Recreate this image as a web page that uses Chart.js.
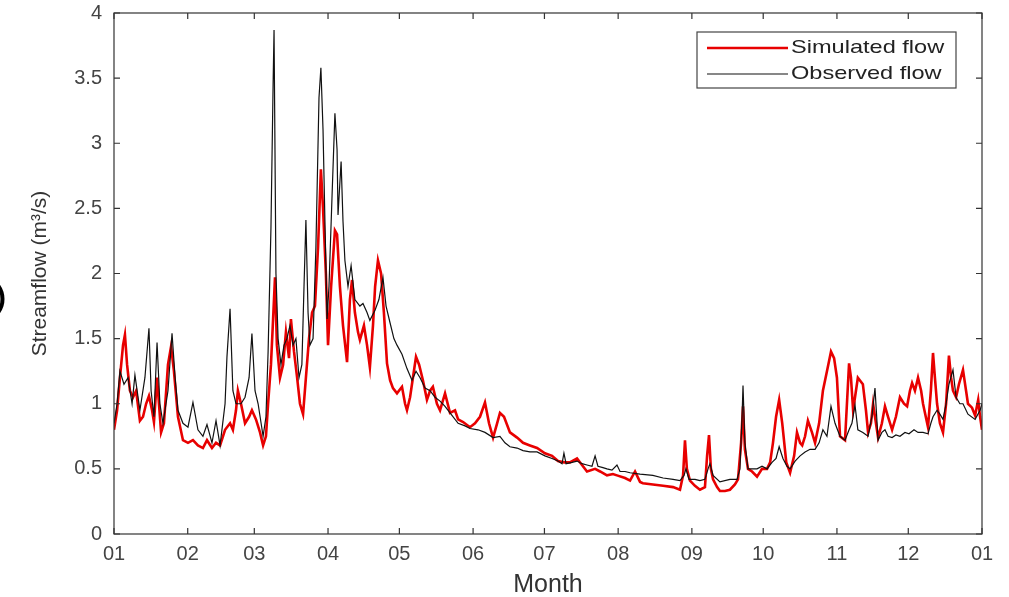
<!DOCTYPE html>
<html>
<head>
<meta charset="utf-8">
<script src="https://cdn.jsdelivr.net/npm/chart.js@4"></script>
<style>
  body { margin: 0; background: #fff; }
  canvas { display: block; }
</style>
</head>
<body>
<canvas id="flowChart" width="1009" height="597"></canvas>
<script>
// month ticks (day of year where each month starts)
var monthStarts = [0, 31, 59, 90, 120, 151, 181, 212, 243, 273, 304, 334, 365];
var monthLabels = ['01', '02', '03', '04', '05', '06', '07', '08', '09', '10', '11', '12', '01'];

var seriesNames = ['Simulated flow', 'Observed flow'];

// observed flow (m3/s)
var obsDays = [0, 1.3, 2.5, 4.2, 5.9, 7.6, 8.8, 10.9, 13.0, 14.7, 15.6, 16.8, 18.1, 19.3, 20.6, 22.7, 24.4, 25.7, 26.9, 29.0,
  31.1, 33.2, 35.3, 37.4, 39.1, 41.2, 42.9, 44.6, 46.7, 47.5, 48.8, 50.0, 51.3, 53.4, 55.1, 56.8, 58.0, 59.3, 60.6, 62.7,
  63.9, 64.8, 66.0, 66.9, 67.3, 68.1, 69.0, 70.2, 71.5, 72.7, 74.0, 75.3, 76.5, 77.8, 79.0, 79.9, 80.7, 81.6, 82.4, 83.7,
  84.9, 86.2, 87.0, 87.9, 88.7, 89.6, 90.4, 91.7, 92.9, 93.8, 94.2, 95.5, 96.3, 97.1, 98.4, 99.7, 101.3, 103.4, 104.7, 106.4,
  107.6, 109.8, 111.4, 113.1, 114.4, 116.1, 117.7, 119.0, 121.1, 123.2, 125.3, 127.0, 128.7, 130.8, 132.9, 135.0, 137.1, 139.2, 141.3, 144.7,
  147.6, 149.7, 153.1, 156.0, 159.4, 162.3, 164.4, 166.5, 169.5, 172.0, 174.9, 177.9, 181.2, 184.2, 186.7, 188.4, 189.2, 190.1, 192.6, 194.7,
  196.8, 198.9, 201.0, 202.3, 203.5, 205.6, 207.3, 209.4, 211.5, 212.8, 214.9, 217.0, 221.2, 226.6, 230.9, 235.1, 238.0, 239.7, 240.5, 241.8,
  244.3, 246.4, 248.5, 249.8, 250.6, 251.9, 254.8, 259.0, 262.0, 263.2, 264.1, 264.5, 265.3, 266.6, 268.3, 270.4, 272.5, 274.6, 276.7, 278.4,
  279.7, 281.3, 283.0, 284.3, 286.4, 288.5, 290.6, 292.7, 294.8, 296.5, 298.1, 299.8, 301.5, 303.2, 305.3, 307.4, 309.1, 310.3, 311.6, 312.8,
  314.9, 317.1, 318.7, 320.0, 321.3, 322.9, 324.2, 325.5, 327.2, 328.8, 330.5, 332.6, 334.3, 336.4, 338.1, 340.2, 342.3, 343.5, 344.4, 346.1,
  347.3, 348.6, 349.9, 351.1, 352.8, 354.1, 355.7, 357.0, 359.1, 362.1, 364.2, 365.0];
var obsFlow = [0.85, 1.0, 1.25, 1.15, 1.2, 1.0, 1.22, 0.95, 1.2, 1.58, 1.1, 0.9, 1.47, 1.0, 0.85, 1.1, 1.54, 1.2, 0.95, 0.85,
  0.82, 1.01, 0.8, 0.75, 0.84, 0.7, 0.87, 0.68, 1.0, 1.36, 1.73, 1.1, 1.0, 1.0, 1.05, 1.2, 1.54, 1.1, 1.0, 0.75,
  0.9, 1.4, 2.35, 3.45, 3.87, 2.0, 1.5, 1.3, 1.45, 1.5, 1.6, 1.45, 1.5, 1.2, 1.3, 1.9, 2.41, 1.7, 1.45, 1.5,
  2.2, 3.35, 3.58, 3.1, 2.4, 1.65, 1.9, 2.6, 3.23, 2.95, 2.45, 2.86, 2.4, 2.1, 1.9, 2.06, 1.8, 1.75, 1.77, 1.7,
  1.64, 1.72, 1.8, 1.97, 1.75, 1.62, 1.5, 1.45, 1.38, 1.27, 1.18, 1.25, 1.2, 1.12, 1.1, 1.05, 1.02, 0.98, 0.93, 0.85,
  0.83, 0.81, 0.8, 0.78, 0.74, 0.75, 0.7, 0.67, 0.66, 0.64, 0.63, 0.63, 0.6, 0.58, 0.56, 0.54, 0.62, 0.54, 0.55, 0.56,
  0.54, 0.53, 0.52, 0.6, 0.52, 0.51, 0.5, 0.49, 0.53, 0.48, 0.48, 0.47, 0.46, 0.45, 0.43, 0.42, 0.41, 0.45, 0.5, 0.42,
  0.42, 0.41, 0.42, 0.5, 0.54, 0.45, 0.4, 0.42, 0.42, 0.5, 0.9, 1.14, 0.7, 0.5, 0.5, 0.5, 0.52, 0.5, 0.55, 0.58,
  0.67, 0.58, 0.52, 0.5, 0.56, 0.6, 0.63, 0.65, 0.65, 0.7, 0.8, 0.75, 0.98, 0.85, 0.75, 0.72, 0.8, 0.85, 0.99, 0.8,
  0.78, 0.75, 0.9, 1.12, 0.72, 0.78, 0.8, 0.75, 0.74, 0.76, 0.75, 0.78, 0.77, 0.8, 0.78, 0.78, 0.77, 0.85, 0.9, 0.95,
  0.92, 0.88, 1.0, 1.15, 1.26, 1.05, 1.0, 1.0, 0.92, 0.88, 0.95, 1.0];

// simulated flow (m3/s)
var simDays = [0, 1.3, 2.5, 3.8, 4.6, 5.5, 6.7, 8.0, 9.3, 10.9, 12.2, 13.5, 14.7, 16.0, 16.8, 18.1, 18.9, 19.8, 21.0, 22.7,
  24.0, 25.2, 26.9, 29.0, 31.1, 33.2, 35.3, 37.4, 39.1, 41.2, 42.9, 44.6, 46.7, 48.8, 50.0, 51.3, 52.1, 53.4, 55.1, 56.8,
  58.0, 59.7, 61.4, 62.7, 63.9, 64.8, 66.0, 66.9, 67.7, 68.5, 69.8, 71.1, 72.3, 73.6, 74.4, 75.7, 77.0, 78.2, 79.5, 80.7,
  82.0, 83.3, 84.5, 85.8, 87.0, 87.9, 89.1, 90.0, 91.3, 92.9, 93.8, 95.0, 96.3, 98.0, 99.2, 100.1, 101.3, 102.6, 103.4, 105.1,
  106.4, 107.6, 108.9, 109.8, 111.0, 112.3, 113.5, 114.8, 116.1, 117.3, 119.0, 121.1, 122.4, 123.2, 124.5, 125.7, 127.0, 128.3, 129.9, 131.6,
  132.9, 134.1, 135.8, 137.1, 139.2, 141.3, 143.4, 144.7, 146.8, 149.7, 151.8, 153.9, 156.0, 157.7, 159.4, 161.1, 162.3, 164.0, 166.5, 169.5,
  172.0, 174.9, 177.9, 181.2, 184.2, 186.7, 189.2, 191.7, 194.7, 196.8, 198.9, 202.3, 204.4, 207.3, 209.8, 211.5, 214.9, 217.0, 219.1, 221.2,
  222.4, 226.6, 230.9, 235.1, 238.0, 239.3, 240.1, 240.9, 242.2, 244.3, 246.4, 248.5, 249.4, 250.2, 251.0, 251.9, 253.6, 254.8, 256.9, 259.0,
  261.1, 262.4, 263.7, 264.5, 265.3, 266.6, 268.3, 270.4, 272.5, 274.6, 275.9, 277.1, 278.4, 279.7, 281.0, 282.7, 284.3, 286.0, 287.2, 288.5,
  289.4, 290.6, 291.8, 293.5, 294.8, 296.5, 298.1, 299.8, 301.5, 302.8, 304.0, 305.3, 307.4, 309.1, 309.9, 310.8, 312.0, 312.8, 314.9, 316.2,
  317.1, 318.3, 319.2, 320.0, 321.3, 322.9, 324.2, 325.5, 327.2, 328.8, 330.5, 332.2, 333.5, 334.7, 335.6, 336.8, 338.1, 339.4, 340.2, 342.3,
  343.5, 344.4, 345.2, 346.1, 347.3, 348.6, 349.9, 351.1, 352.0, 352.8, 354.1, 355.3, 357.0, 358.3, 359.1, 360.8, 362.1, 363.4, 364.2, 365.0];
var simFlow = [0.8, 0.95, 1.2, 1.45, 1.53, 1.3, 1.1, 1.05, 1.1, 0.87, 0.9, 1.0, 1.06, 0.95, 0.86, 1.2, 1.0, 0.78, 0.85, 1.3,
  1.44, 1.25, 0.9, 0.72, 0.7, 0.72, 0.68, 0.66, 0.72, 0.66, 0.7, 0.68, 0.8, 0.85, 0.8, 0.95, 1.1, 1.0, 0.85, 0.9,
  0.95, 0.88, 0.78, 0.68, 0.75, 1.0, 1.3, 1.65, 1.97, 1.45, 1.2, 1.3, 1.55, 1.35, 1.65, 1.4, 1.2, 1.0, 0.92, 1.2,
  1.5, 1.7, 1.75, 2.2, 2.8, 2.5, 2.0, 1.45, 1.9, 2.33, 2.3, 1.9, 1.6, 1.32, 1.8, 1.95, 1.7, 1.55, 1.49, 1.6,
  1.45, 1.28, 1.6, 1.9, 2.1, 2.0, 1.7, 1.31, 1.18, 1.12, 1.08, 1.13, 1.0, 0.95, 1.05, 1.2, 1.36, 1.3, 1.18, 1.03,
  1.1, 1.13, 1.0, 0.95, 1.08, 0.93, 0.95, 0.88, 0.86, 0.82, 0.85, 0.9, 1.01, 0.85, 0.74, 0.85, 0.93, 0.9, 0.78, 0.74,
  0.7, 0.68, 0.66, 0.62, 0.6, 0.56, 0.55, 0.55, 0.58, 0.53, 0.48, 0.5, 0.48, 0.45, 0.46, 0.45, 0.43, 0.41, 0.48, 0.4,
  0.39, 0.38, 0.37, 0.36, 0.34, 0.45, 0.72, 0.5, 0.41, 0.37, 0.34, 0.36, 0.6, 0.76, 0.5, 0.42, 0.36, 0.33, 0.33, 0.34,
  0.38, 0.42, 0.7, 0.98, 0.65, 0.5, 0.48, 0.44, 0.5, 0.5, 0.55, 0.7, 0.9, 1.03, 0.85, 0.55, 0.47, 0.6, 0.78, 0.7,
  0.68, 0.75, 0.87, 0.78, 0.7, 0.85, 1.1, 1.25, 1.4, 1.35, 1.2, 0.75, 0.72, 1.31, 1.2, 0.95, 1.1, 1.2, 1.15, 0.95,
  0.78, 0.85, 1.0, 0.9, 0.74, 0.85, 0.98, 0.9, 0.8, 0.9, 1.05, 1.0, 0.98, 1.1, 1.16, 1.1, 1.2, 1.1, 1.0, 0.82,
  1.1, 1.39, 1.2, 1.0, 0.85, 0.78, 1.0, 1.37, 1.2, 1.1, 1.05, 1.15, 1.26, 1.1, 1.0, 0.97, 0.91, 1.03, 0.9, 0.8];

var simColor = 'rgb(232,0,0)';
var obsColor = '#111111';
var axisColor = '#333333';
var fontFamily = '"Liberation Sans", Arial, sans-serif';

function toPoints(days, vals) {
  return days.map(function (d, i) { return { x: d, y: vals[i] }; });
}

// box around the plot with inward ticks on all four sides, plus the legend box
var matlabBox = {
  id: 'matlabBox',
  afterDraw: function (chart) {
    var ctx = chart.ctx;
    var a = chart.chartArea;
    var xs = chart.scales.x, ys = chart.scales.y;
    ctx.save();
    ctx.strokeStyle = axisColor;
    ctx.lineWidth = 1.2;
    ctx.strokeRect(a.left, a.top, a.right - a.left, a.bottom - a.top);
    ctx.beginPath();
    xs.ticks.forEach(function (t) {
      var px = xs.getPixelForValue(t.value);
      ctx.moveTo(px, a.bottom); ctx.lineTo(px, a.bottom - 6);
      ctx.moveTo(px, a.top); ctx.lineTo(px, a.top + 6);
    });
    ys.ticks.forEach(function (t) {
      var py = ys.getPixelForValue(t.value);
      ctx.moveTo(a.left, py); ctx.lineTo(a.left + 6, py);
      ctx.moveTo(a.right, py); ctx.lineTo(a.right - 6, py);
    });
    ctx.stroke();

    // legend
    var lx = a.right - 285, ly = a.top + 19, lw = 259, lh = 56;
    ctx.fillStyle = '#fff';
    ctx.fillRect(lx, ly, lw, lh);
    ctx.strokeStyle = '#444';
    ctx.lineWidth = 1.2;
    ctx.strokeRect(lx, ly, lw, lh);
    ctx.font = '19px ' + fontFamily;
    ctx.textBaseline = 'middle';
    chart.data.datasets.forEach(function (ds, i) {
      var yy = ly + 16 + i * 26;
      ctx.strokeStyle = ds.borderColor;
      ctx.lineWidth = ds.borderWidth;
      ctx.beginPath();
      ctx.moveTo(lx + 10, yy); ctx.lineTo(lx + 91, yy);
      ctx.stroke();
      ctx.fillStyle = '#222';
      ctx.save();
      ctx.translate(lx + 94, yy);
      ctx.scale(1.24, 1);
      ctx.fillText(ds.label, 0, 0);
      ctx.restore();
    });

    // panel letter cut off at the left edge
    ctx.fillStyle = '#000';
    ctx.font = 'bold 30px ' + fontFamily;
    ctx.textAlign = 'right';
    ctx.fillText('(b)', 6, 299);
    ctx.restore();
  }
};

var ctx = document.getElementById('flowChart');

var flowChart = new Chart(ctx, {
  type: 'line',
  data: {
    datasets: [
      {
        label: seriesNames[0],
        data: toPoints(simDays, simFlow),
        borderColor: simColor,
        borderWidth: 2.6,
        pointRadius: 0,
        tension: 0,
        order: 1
      },
      {
        label: seriesNames[1],
        data: toPoints(obsDays, obsFlow),
        borderColor: obsColor,
        borderWidth: 1.2,
        pointRadius: 0,
        tension: 0,
        order: 0
      }
    ]
  },
  options: {
    responsive: false,
    animation: false,
    layout: { padding: { top: 13, right: 27, left: 0, bottom: 0 } },
    plugins: {
      legend: { display: false },
      tooltip: { enabled: false }
    },
    scales: {
      x: {
        type: 'linear',
        min: 0,
        max: 365,
        grid: { display: false, drawTicks: false },
        border: { display: false },
        afterBuildTicks: function (scale) {
          scale.ticks = monthStarts.map(function (d) { return { value: d }; });
        },
        afterFit: function (scale) { scale.height = 63; },
        ticks: {
          autoSkip: false,
          maxRotation: 0,
          padding: 8,
          color: '#444',
          font: { family: fontFamily, size: 20 },
          callback: function (v, i) { return monthLabels[i]; }
        },
        title: {
          display: true,
          text: 'Month',
          color: '#333',
          font: { family: fontFamily, size: 25 },
          padding: { top: 0, bottom: -3 }
        }
      },
      y: {
        min: 0,
        max: 4,
        grid: { display: false, drawTicks: false },
        border: { display: false },
        afterFit: function (scale) {
          scale.width = 114;
          scale.paddingTop = 0;
          scale.paddingBottom = 0;
        },
        ticks: {
          stepSize: 0.5,
          padding: 12,
          color: '#444',
          font: { family: fontFamily, size: 20 },
          callback: function (v) { return String(v); }
        },
        title: {
          display: true,
          text: 'Streamflow (m³/s)',
          color: '#333',
          font: { family: fontFamily, size: 21 },
          padding: { top: 28, bottom: 0 }
        }
      }
    }
  },
  plugins: [matlabBox]
});
</script>
</body>
</html>
